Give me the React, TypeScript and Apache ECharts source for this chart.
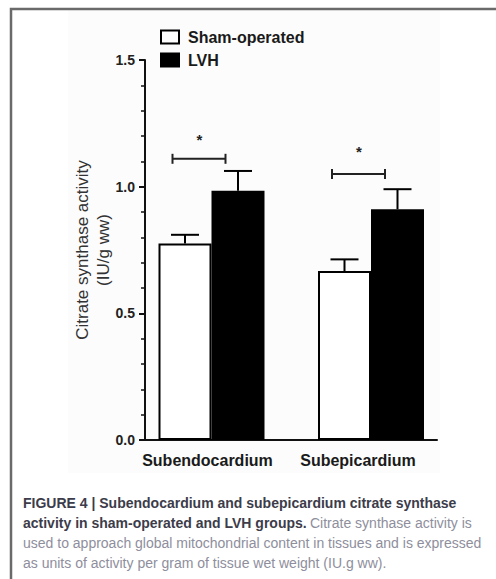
import React, { useEffect, useRef } from "react";
import * as echarts from "echarts";

const categories = ["Subendocardium", "Subepicardium"];
const groupNames = ["Sham-operated", "LVH"];
const shamMeans = [0.776, 0.667];
const shamSem = [0.034, 0.046];
const lvhMeans = [0.984, 0.911];
const lvhSem = [0.078, 0.079];
const bracketLevels = [1.11, 1.05];
const starLevels = [1.2, 1.15];
const yMin = 0;
const yMax = 1.5;
const yInterval = 0.5;
const yAxisTitle = "Citrate synthase activity\n(IU/g ww)";
const captionBold1 = "FIGURE 4 | Subendocardium and subepicardium citrate synthase";
const captionBold2 = "activity in sham-operated and LVH groups.";
const captionReg2 = "Citrate synthase activity is";
const captionReg3 = "used to approach global mitochondrial content in tissues and is expressed";
const captionReg4 = "as units of activity per gram of tissue wet weight (IU.g ww).";

const FONT = 'Arial, "Liberation Sans", sans-serif';
const BAR_W = 53;

export default function App() {
  const ref = useRef<HTMLDivElement>(null);
  useEffect(() => {
    document.body.style.margin = "0";
    const chart = echarts.init(ref.current!, null, { renderer: "svg" });
    const errData: number[][] = [];
    categories.forEach((_, i) => {
      errData.push([i, shamMeans[i], shamMeans[i] + shamSem[i], -1]);
      errData.push([i, lvhMeans[i], lvhMeans[i] + lvhSem[i], 1]);
    });
    const sigData = categories.map((_, i) => [i, bracketLevels[i], starLevels[i]]);
    const option: any = {
      animation: false,
      backgroundColor: "#ffffff",
      textStyle: { fontFamily: FONT },
      graphic: [
        { type: "rect", z: -10, shape: { x: 68, y: 10, width: 372, height: 463 }, style: { fill: "#fcfcfc" } },
        { type: "polyline", z: 10, shape: { points: [[11, 579], [11, 9], [496, 9]] }, style: { stroke: "#6a6a6a", lineWidth: 2.5, fill: null } },
        {
          type: "text",
          left: 23,
          top: 496,
          style: {
            text:
              `{b|${captionBold1}}\n{b|${captionBold2}} {r|${captionReg2}}\n{r|${captionReg3}}\n{r|${captionReg4}}`,
            rich: {
              b: { fontFamily: FONT, fontSize: 14, fontWeight: "bold", fill: "#3c3c4a", lineHeight: 20 },
              r: { fontFamily: FONT, fontSize: 14, fill: "#8e8e9c", lineHeight: 20 },
            },
          },
        },
      ],
      legend: {
        data: groupNames,
        orient: "vertical",
        left: 155,
        top: 24,
        itemWidth: 18,
        itemHeight: 13,
        itemGap: 7,
        icon: "rect",
        textStyle: { fontFamily: FONT, fontSize: 16, fontWeight: "bold", color: "#1a1a1a", padding: [0, 0, 0, 4] },
      },
      grid: [
        { left: 131.75, right: 45.25, top: 60, bottom: 139 },
        { left: 145, right: 59, top: 60, bottom: 139 },
      ],
      xAxis: [
        {
          type: "category",
          gridIndex: 0,
          data: categories,
          axisLine: { show: false },
          axisTick: { show: false },
          axisLabel: {
            margin: 12,
            formatter: (v: string, i: number) => (i === 0 ? `{a|${v}}` : `{c|${v}}`),
            rich: {
              a: { fontFamily: FONT, fontSize: 16, fontWeight: "bold", color: "#1a1a1a", padding: [0, 8, 0, 0] },
              c: { fontFamily: FONT, fontSize: 16, fontWeight: "bold", color: "#1a1a1a", padding: [0, 26, 0, 0] },
            },
          },
        },
        {
          type: "value",
          gridIndex: 1,
          min: 0,
          max: 1,
          axisLine: { show: true, lineStyle: { color: "#111", width: 2 } },
          axisTick: { show: false },
          axisLabel: { show: false },
          splitLine: { show: false },
        },
      ],
      yAxis: [
        {
          type: "value",
          gridIndex: 0,
          min: yMin,
          max: yMax,
          interval: yInterval,
          show: false,
        },
        {
          type: "value",
          gridIndex: 1,
          min: yMin,
          max: yMax,
          interval: yInterval,
          name: yAxisTitle,
          nameLocation: "middle",
          nameGap: 31,
          nameMoveOverlap: false,
          nameTextStyle: { fontFamily: FONT, fontSize: 17, color: "#333", lineHeight: 21 },
          axisLine: { show: true, lineStyle: { color: "#111", width: 2 } },
          axisTick: { show: true, inside: false, length: 6, lineStyle: { color: "#111", width: 2 } },
          minorTick: { show: true, splitNumber: 5, length: 4, lineStyle: { color: "#111", width: 1.5 } },
          splitLine: { show: false },
          axisLabel: {
            margin: 10,
            fontFamily: FONT,
            fontSize: 14,
            fontWeight: "bold",
            color: "#222",
            formatter: (v: number) => v.toFixed(1),
          },
        },
      ],
      series: [
        {
          name: groupNames[0],
          type: "bar",
          xAxisIndex: 0,
          yAxisIndex: 0,
          data: shamMeans,
          barWidth: BAR_W,
          barGap: "0%",
          itemStyle: { color: "#ffffff", borderColor: "#000", borderWidth: 2 },
        },
        {
          name: groupNames[1],
          type: "bar",
          xAxisIndex: 0,
          yAxisIndex: 0,
          data: lvhMeans,
          barWidth: BAR_W,
          barGap: "0%",
          itemStyle: { color: "#000000", borderColor: "#000", borderWidth: 2 },
        },
        {
          type: "custom",
          xAxisIndex: 0,
          yAxisIndex: 0,
          data: errData,
          z: 5,
          renderItem: (_p: any, api: any) => {
            const ci = api.value(0);
            const p0 = api.coord([ci, api.value(1)]);
            const p1 = api.coord([ci, api.value(2)]);
            const x = p0[0] + api.value(3) * (BAR_W / 2);
            const st = { stroke: "#000", lineWidth: 2 };
            return {
              type: "group",
              children: [
                { type: "line", shape: { x1: x, y1: p0[1], x2: x, y2: p1[1] }, style: st },
                { type: "line", shape: { x1: x - 14, y1: p1[1], x2: x + 14, y2: p1[1] }, style: st },
              ],
            };
          },
        },
        {
          type: "custom",
          xAxisIndex: 0,
          yAxisIndex: 0,
          data: sigData,
          z: 5,
          renderItem: (_p: any, api: any) => {
            const ci = api.value(0);
            const pb = api.coord([ci, api.value(1)]);
            const ps = api.coord([ci, api.value(2)]);
            const x1 = pb[0] - 39;
            const x2 = pb[0] + 14;
            const st = { stroke: "#222", lineWidth: 2 };
            return {
              type: "group",
              children: [
                { type: "line", shape: { x1, y1: pb[1], x2, y2: pb[1] }, style: st },
                { type: "line", shape: { x1, y1: pb[1] - 5, x2: x1, y2: pb[1] + 5 }, style: st },
                { type: "line", shape: { x1: x2, y1: pb[1] - 5, x2, y2: pb[1] + 5 }, style: st },
                {
                  type: "text",
                  x: pb[0] - 12,
                  y: ps[1] + 3,
                  style: { text: "*", fontFamily: FONT, fontSize: 15, fontWeight: "bold", fill: "#222", align: "center", verticalAlign: "middle" },
                },
              ],
            };
          },
        },
      ],
    };
    chart.setOption(option);
    return () => chart.dispose();
  }, []);
  return <div ref={ref} style={{ width: 496, height: 579, position: "absolute", left: 0, top: 0 }} />;
}
